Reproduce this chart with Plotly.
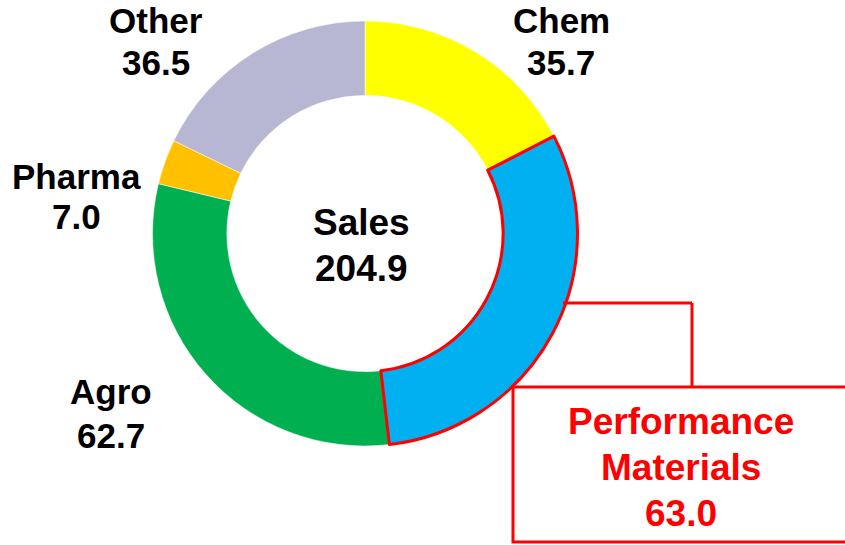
import plotly.graph_objects as go

# ---- data ----
segments = ["Chem", "Performance Materials", "Agro", "Pharma", "Other"]
sales = [35.7, 63.0, 62.7, 7.0, 36.5]
colors = ["#FFFF00", "#00B0F0", "#00B050", "#FFC000", "#B7B7D3"]
total_label = "Sales"
total_value = 204.9
highlight = "Performance Materials"

W, H = 845, 545
FONT = "Arial, Liberation Sans, sans-serif"


def px(x):
    return x / W


def py(y):
    return 1 - y / H


domain = dict(x=[px(152), px(578)], y=[py(446), py(21)])

fig = go.Figure()
fig.add_trace(go.Pie(
    labels=segments, values=sales, sort=False, direction="clockwise", rotation=0,
    hole=0.65, domain=domain, textinfo="none", hoverinfo="skip",
    marker=dict(colors=colors, line=dict(color="white", width=0.5)),
    showlegend=False,
))
# overlay outline for the highlighted segment
fig.add_trace(go.Pie(
    labels=segments, values=sales, sort=False, direction="clockwise", rotation=0,
    hole=0.65, domain=domain, textinfo="none", hoverinfo="skip",
    marker=dict(colors=["rgba(0,0,0,0)"] * len(segments),
                line=dict(color=["red" if s == highlight else "rgba(0,0,0,0)" for s in segments],
                          width=[3 if s == highlight else 0 for s in segments])),
    showlegend=False,
))

ann = []


def add_lines(lines, x, ys, color="black", size=35):
    for t, y in zip(lines, ys):
        ann.append(dict(text="<b>%s</b>" % t, x=px(x), y=py(y), xref="paper", yref="paper",
                        xanchor="center", yanchor="middle", showarrow=False,
                        font=dict(family=FONT, size=size, color=color)))


lab = dict(zip(segments, sales))
add_lines(["Chem", "%.1f" % lab["Chem"]], 561, [20, 62])
add_lines(["Other", "%.1f" % lab["Other"]], 156, [20, 62])
add_lines(["Pharma", "%.1f" % lab["Pharma"]], 76, [177, 217])
add_lines(["Agro", "%.1f" % lab["Agro"]], 111, [391, 435])
add_lines([total_label, "%.1f" % total_value], 361, [222, 268], size=37)
add_lines(["Performance", "Materials", "%.1f" % lab["Performance Materials"]], 681,
          [421, 467, 513], color="red", size=37)

shapes = [
    dict(type="line", xref="paper", yref="paper", x0=px(563), y0=py(303), x1=px(692), y1=py(303),
         line=dict(color="red", width=3)),
    dict(type="line", xref="paper", yref="paper", x0=px(692), y0=py(303), x1=px(692), y1=py(387),
         line=dict(color="red", width=3)),
    dict(type="rect", xref="paper", yref="paper", x0=px(513), y0=py(542), x1=px(860), y1=py(387),
         line=dict(color="red", width=3), fillcolor="rgba(0,0,0,0)"),
]

fig.update_layout(
    width=W, height=H, margin=dict(l=0, r=0, t=0, b=0),
    paper_bgcolor="white", plot_bgcolor="white",
    annotations=ann, shapes=shapes,
)

fig.write_html("out.html", config={"displayModeBar": False},
               post_script="document.body.style.margin='0';")
